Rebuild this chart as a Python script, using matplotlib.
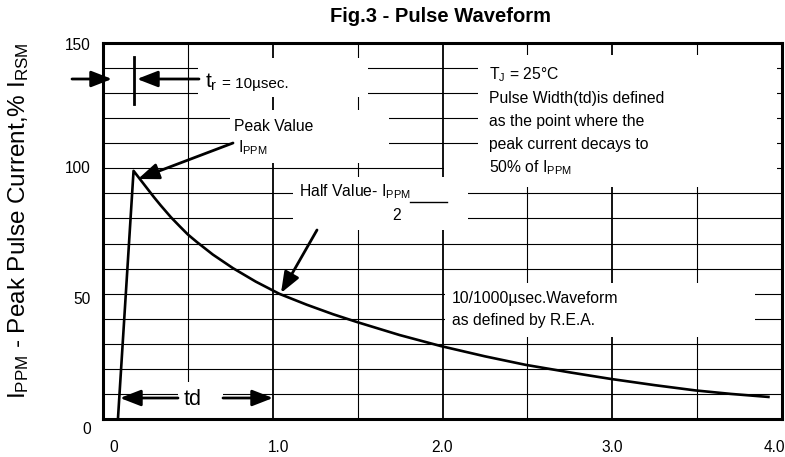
import matplotlib
matplotlib.use("Agg")
import matplotlib.pyplot as plt
from matplotlib.ticker import MultipleLocator
from matplotlib.patches import Rectangle
from matplotlib import font_manager
import matplotlib.transforms as mtransforms

# ---------------- data ----------------
time_ms = [0.088, 0.18, 0.22, 0.26, 0.30, 0.34, 0.40, 0.453, 0.50, 0.553, 0.647, 0.765, 0.90, 1.04,
           1.2, 1.355, 1.5, 1.747, 1.99, 2.25, 2.49, 2.75, 2.99, 3.25, 3.49, 3.70, 3.92]
current_pct = [0, 99, 95.5, 92, 88.5, 85.2, 80.5, 76.8, 73.6, 70.6, 65.6, 60.2, 54.8, 49.9,
               45.6, 41.8, 38.6, 33.5, 29.1, 25.0, 21.6, 18.6, 16.0, 13.5, 11.4, 10.0, 8.8]

xtick_values = [0, 1.0, 2.0, 3.0, 4.0]
xtick_labels = ["0", "1.0", "2.0", "3.0", "4.0"]
xtick_dx_px = [11, 6, 0, 0, -8]
ytick_values = [0, 50, 100, 150]
ytick_labels = ["0", "50", "100", "150"]
ytick_dy_px = [-11, -6, 0, -3]

names = {f.name for f in font_manager.fontManager.ttflist}
title_family = "Liberation Sans Narrow" if "Liberation Sans Narrow" in names else "Liberation Sans"

plt.rcParams["font.family"] = ["Liberation Sans", "DejaVu Sans"]
plt.rcParams["mathtext.fontset"] = "custom"
plt.rcParams["mathtext.rm"] = "Liberation Sans"

W, H = 785, 457
fig = plt.figure(figsize=(W / 100, H / 100), dpi=100)
L, R, T, B = 103, 782, 43, 419
ax = fig.add_axes([L / W, (H - B) / H, (R - L) / W, (B - T) / H])
ax.set_xlim(0, 4.0)
ax.set_ylim(0, 150)

XS = (R - L) / 4.0
YS = (B - T) / 150.0


def d(px, py):
    """annotation placement helper: figure pixel -> data coords"""
    return ((px - L) / XS, (B - py) / YS)


# grid
ax.set_xticks(xtick_values)
ax.xaxis.set_minor_locator(MultipleLocator(0.5))
ax.set_yticks(ytick_values)
ax.yaxis.set_minor_locator(MultipleLocator(10))
ax.tick_params(which="both", length=0, labelbottom=False, labelleft=False)
ax.xaxis.grid(True, which="major", color="black", lw=1.3)
ax.xaxis.grid(True, which="minor", color="black", lw=0.8)
ax.yaxis.grid(True, which="both", color="black", lw=0.8)
ax.set_axisbelow(True)
for s in ax.spines.values():
    s.set_linewidth(2.2)
    s.set_zorder(10)

# white boxes behind annotation text
boxes = [(198, 58, 368, 97), (230, 110, 389, 163), (293, 177, 468, 230),
         (478, 55, 777, 187), (444, 158, 478, 187), (445, 283, 755, 337),
         (178, 382, 223, 418)]
for (x0, y0, x1, y1) in boxes:
    a0 = d(x0, y1)
    a1 = d(x1, y0)
    ax.add_patch(Rectangle(a0, a1[0] - a0[0], a1[1] - a0[1], facecolor="white",
                           edgecolor="none", zorder=2))

# curve
ax.plot(time_ms, current_pct, color="black", lw=1.9, zorder=3, solid_joinstyle="round")

# tick labels
for v, lab, dx in zip(xtick_values, xtick_labels, xtick_dx_px):
    tr = mtransforms.offset_copy(ax.get_xaxis_transform(), fig=fig, x=dx * 0.72, y=-28 * 0.72, units="points")
    ax.text(v, 0, lab, transform=tr, ha="center", va="center", fontsize=11.2, clip_on=False)
for v, lab, dy in zip(ytick_values, ytick_labels, ytick_dy_px):
    tr = mtransforms.offset_copy(ax.get_yaxis_transform(), fig=fig, x=-12 * 0.72, y=dy * 0.72, units="points")
    ax.text(0, v, lab, transform=tr, ha="right", va="center", fontsize=11.2, clip_on=False)

# labels
fig.text(440 / W, 1 - 16 / H, "Fig.3 - Pulse Waveform", family=title_family, weight="bold",
         fontsize=17 if title_family.endswith("Narrow") else 14.5, ha="center", va="center")
fig.text(19 / W, 1 - 221 / H, r"$\mathregular{I_{PPM}}$ - Peak Pulse Current,% $\mathregular{I_{RSM}}$",
         rotation=90, ha="center", va="center", fontsize=17.5)

AFS = 11.3


def txt(px, py, s, fs=AFS, **kw):
    ax.text(*d(px, py), s, fontsize=fs, ha=kw.pop("ha", "left"), va=kw.pop("va", "baseline"),
            zorder=5, clip_on=False, **kw)


def arrow(p_tail, p_head):
    ax.annotate("", xy=d(*p_head), xytext=d(*p_tail),
                arrowprops=dict(arrowstyle="-|>,head_length=0.9,head_width=0.35", color="black",
                                lw=2.0, shrinkA=0, shrinkB=0, mutation_scale=14),
                zorder=6, annotation_clip=False)


# t_r annotation
arrow((72, 79), (112, 79))
arrow((199, 79), (137, 79))
ax.plot(*zip(d(134, 57), d(134, 104)), color="black", lw=2.0, zorder=6, clip_on=False)
txt(205, 88, r"$\mathregular{t_r}$", fs=15)
txt(222, 88, "= 10µsec.", fs=11.0)

# Peak value
txt(234, 131, "Peak Value")
txt(238, 152, r"$\mathregular{I_{PPM}}$")
arrow((233, 143), (138, 179))

# Half value
txt(299, 196, r"Half Value- $\mathregular{I_{PPM}}$")
ax.plot(*zip(d(410, 202), d(447, 202)), color="black", lw=1.0, zorder=6)
txt(392, 220, "2")
arrow((317, 230), (281, 293))

# T_J block
tj_lines = [r"$\mathregular{T_J}$ = 25°C", "Pulse Width(td)is defined", "as the point where the",
            "peak current decays to", r"50% of $\mathregular{I_{PPM}}$"]
for s, yb in zip(tj_lines, [79, 103, 126, 149, 172]):
    txt(489, yb, s)

# waveform note
txt(452, 303, "10/1000µsec.Waveform")
txt(452, 325, "as defined by R.E.A.")

# td
arrow((178, 398), (120, 398))
arrow((223, 398), (273, 398))
txt(193, 405, "td", fs=15.5, ha="center")

fig.savefig("out.png", dpi=100)
